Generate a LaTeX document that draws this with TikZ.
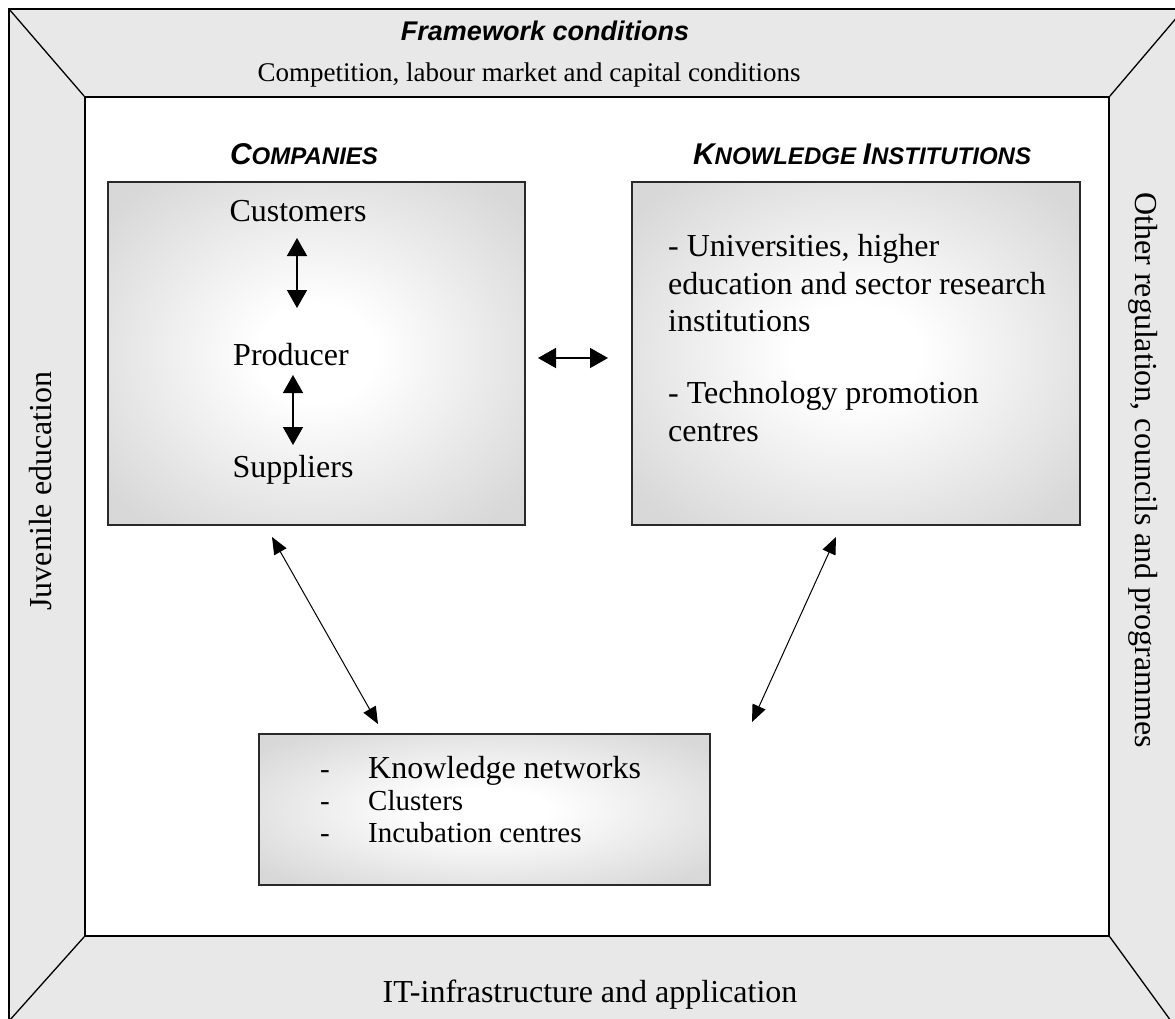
\documentclass[tikz,border=0pt]{standalone}
\usepackage{fontspec}
\setmainfont{Liberation Serif}
\newfontfamily\arialf{Liberation Sans}
\usetikzlibrary{arrows.meta}
\definecolor{framegray}{HTML}{E8E8E8}
\definecolor{edgegray}{HTML}{D8D8D8}
\definecolor{boxline}{HTML}{2A2A2A}
\pgfdeclareradialshading{boxshade}{\pgfpoint{0bp}{0bp}}{color(0bp)=(white); color(7bp)=(white); color(32bp)=(edgegray); color(50bp)=(edgegray)}
\begin{document}
\begin{tikzpicture}[x=1pt,y=-1pt,
  shadebox/.style={draw=boxline, line width=1.2pt, shading=boxshade, inner sep=0pt},
  txt/.style={inner sep=0pt, anchor=base, font=\fontsize{32}{36}\selectfont},
  txtl/.style={inner sep=0pt, anchor=base west, font=\fontsize{32}{36}\selectfont},
  bigarrow/.style={{Triangle[length=18pt,width=20pt]}-{Triangle[length=18pt,width=20pt]}, line width=1.6pt},
  thinarrow/.style={{Triangle[length=17pt,width=14pt]}-{Triangle[length=17pt,width=14pt]}, line width=1pt}
]
\useasboundingbox (0,0) rectangle (1175,1019);
% frame
\fill[framegray] (9,9) rectangle (1190,1030);
\draw[line width=1.3pt] (1190,9) -- (9,9) -- (9,1030);
\node[fill=white, draw=black, line width=1.5pt, minimum width=1024pt, minimum height=839pt, inner sep=0pt] (inner) at (597,516.5) {};
\coordinate (otl) at (9,9);
\coordinate (otr) at (1184,9);
\coordinate (obl) at (9,1021);
\coordinate (obr) at (1171,1021);
\draw[line width=1.3pt] (otl) -- (inner.north west);
\draw[line width=1.3pt] (otr) -- (inner.north east);
\draw[line width=1.3pt] (obl) -- (inner.south west);
\draw[line width=1.3pt] (obr) -- (inner.south east);

% frame texts
\node[inner sep=0pt, anchor=base, font=\arialf\bfseries\itshape\fontsize{27}{30}\selectfont] (fw) at (545,41) {Framework conditions};
\node[inner sep=0pt, anchor=base, font=\fontsize{27}{30}\selectfont] (comp1) at (529,82) {Competition, labour market and capital conditions};
\node[txt, rotate=90, anchor=center] (juv) at (41,491) {Juvenile education};
\node[txt, rotate=-90, anchor=center] (oth) at (1143,470) {Other regulation, councils and programmes};
\node[txt] (it) at (590,1002) {IT-infrastructure and application};

% headings
\node[inner sep=0pt, anchor=base, font=\arialf\bfseries\itshape] (hc) at (304,165) {\fontsize{30}{30}\selectfont C\fontsize{24}{30}\selectfont OMPANIES};
\node[inner sep=0pt, anchor=base, font=\arialf\bfseries\itshape] (hk) at (862,165) {\fontsize{30}{30}\selectfont K\fontsize{24}{30}\selectfont NOWLEDGE \fontsize{30}{30}\selectfont I\fontsize{24}{30}\selectfont NSTITUTIONS};

% boxes
\node[shadebox, minimum width=417pt, minimum height=343pt] (comp) at (316.5,353.5) {};
\node[shadebox, minimum width=448pt, minimum height=343pt] (know) at (856,353.5) {};
\node[shadebox, minimum width=451pt, minimum height=151pt] (net) at (484.5,809.5) {};

% companies content
\node[txt] (cust) at (298,222) {Customers};
\node[txt] (prod) at (291,365) {Producer};
\node[txt] (supp) at (293,477) {Suppliers};
\coordinate (ca) at (297,238);
\coordinate (cb) at (297,308);
\coordinate (pa) at (293,375);
\coordinate (pb) at (293,445);
\draw[bigarrow] (ca) -- (cb);
\draw[bigarrow] (pa) -- (pb);

% knowledge content
\node[txtl] (k1) at (668,256) {- Universities, higher};
\node[txtl] (k2) at (668,294) {education and sector research};
\node[txtl] (k3) at (668,331) {institutions};
\node[txtl] (k4) at (668,403) {- Technology promotion};
\node[txtl] (k5) at (668,441) {centres};

% network content
\node[txtl] (n1) at (368,778) {Knowledge networks};
\node[txtl, font=\fontsize{29}{32}\selectfont] (n2) at (368,810) {Clusters};
\node[txtl, font=\fontsize{29}{32}\selectfont] (n3) at (368,842) {Incubation centres};
\node[txtl, font=\fontsize{29}{32}\selectfont] (d1) at (320,778) {-};
\node[txtl, font=\fontsize{29}{32}\selectfont] (d2) at (320,810) {-};
\node[txtl, font=\fontsize{29}{32}\selectfont] (d3) at (320,842) {-};

% connectors
\coordinate (ha) at (538,358);
\coordinate (hb) at (608,358);
\draw[bigarrow] (ha) -- (hb);
\coordinate (la) at (272,537);
\coordinate (lb) at (378,724);
\draw[thinarrow] (la) -- (lb);
\coordinate (ra) at (836,537);
\coordinate (rb) at (752,722);
\draw[thinarrow] (ra) -- (rb);
\end{tikzpicture}
\end{document}
